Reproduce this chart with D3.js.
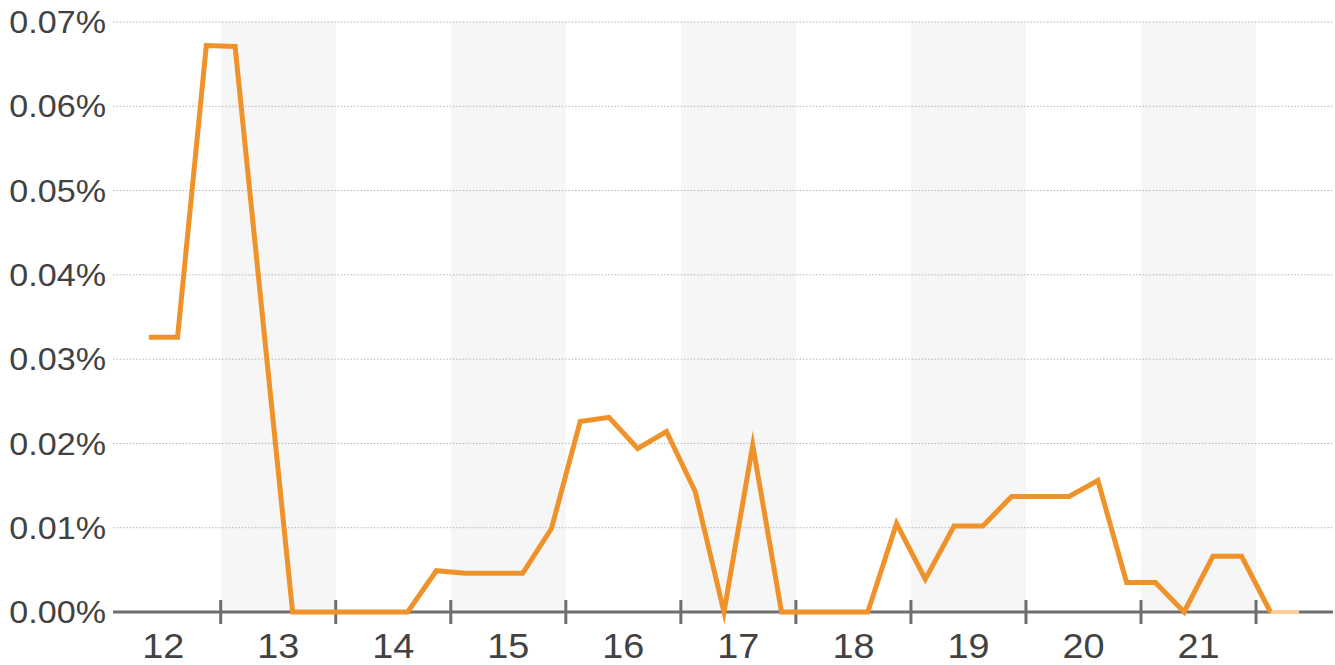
<!DOCTYPE html>
<html>
<head>
<meta charset="utf-8">
<script src="https://cdn.jsdelivr.net/npm/d3@7"></script>
<style>
  html, body { margin: 0; padding: 0; background: #ffffff; }
  svg { display: block; }
  text { font-family: "Liberation Sans", Arial, sans-serif; fill: #424242; }
</style>
</head>
<body>
<svg id="chart" width="1335" height="665"></svg>
<script>
// Category labels on the x axis
const categories = [12, 13, 14, 15, 16, 17, 18, 19, 20, 21];
// Shaded (alternate) categories
const shadedCategories = [13, 15, 17, 19, 21];
// Y tick values (percent)
const yTicks = [0, 0.01, 0.02, 0.03, 0.04, 0.05, 0.06, 0.07];
// Series: one value every quarter of a category, starting at 11.875
const seriesStart = 11.875;
const seriesStep = 0.25;
const seriesValues = [
  0.0326, 0.0326, 0.0672, 0.0671, 0.0335, 0, 0, 0, 0, 0,
  0.0049, 0.0046, 0.0046, 0.0046, 0.0099, 0.0226, 0.0231, 0.0194, 0.0214, 0.0143,
  0, 0.0198, 0, 0, 0, 0, 0.0105, 0.0039, 0.0102, 0.0102,
  0.0137, 0.0137, 0.0137, 0.0156, 0.0035, 0.0035, 0, 0.0066, 0.0066, 0,
  0
];

const svg = d3.select("#chart");
const plotLeft = 113, plotRight = 1333, plotTop = 22, plotBottom = 612;

const x = d3.scaleLinear().domain([11.5, 20.5]).range([105.67, 1141.0]);
const y = d3.scaleLinear().domain([0, 0.07]).range([plotBottom, plotTop]);

// Alternate bands
svg.append("g").selectAll("rect").data(shadedCategories).join("rect")
  .attr("x", d => x(d - 0.5))
  .attr("width", d => x(d + 0.5) - x(d - 0.5))
  .attr("y", plotTop)
  .attr("height", plotBottom - plotTop)
  .attr("fill", "#f6f6f6");

// Gridlines
svg.append("g").selectAll("line").data(yTicks.filter(d => d > 0)).join("line")
  .attr("x1", plotLeft).attr("x2", plotRight)
  .attr("y1", d => y(d)).attr("y2", d => y(d))
  .attr("stroke", "#b8b8b8").attr("stroke-width", 1)
  .attr("stroke-dasharray", "1.6,1.7");

// Y labels
svg.append("g").selectAll("text").data(yTicks).join("text")
  .attr("transform", d => `translate(106,${y(d)}) scale(1.1,1)`)
  .attr("dy", "0.36em")
  .attr("text-anchor", "end")
  .attr("font-size", 31)
  .text(d => d3.format(".2f")(d) + "%");

// Baseline axis
svg.append("line")
  .attr("x1", plotLeft).attr("x2", plotRight)
  .attr("y1", y(0)).attr("y2", y(0))
  .attr("stroke", "#6e6e6e").attr("stroke-width", 3);

// Ticks at category boundaries
svg.append("g").selectAll("line").data(categories).join("line")
  .attr("x1", d => x(d + 0.5)).attr("x2", d => x(d + 0.5))
  .attr("y1", y(0) - 12).attr("y2", y(0) + 12)
  .attr("stroke", "#6e6e6e").attr("stroke-width", 3);

// X labels
svg.append("g").selectAll("text").data(categories).join("text")
  .attr("transform", d => `translate(${x(d)},658) scale(1.08,1)`)
  .attr("text-anchor", "middle")
  .attr("font-size", 35)
  .text(d => d);

// Series line
const pts = seriesValues.map((v, i) => ({ x: seriesStart + i * seriesStep, v }));
const line = d3.line().x(d => x(d.x)).y(d => y(d.v));

svg.append("path")
  .datum(pts.slice(pts.length - 2))
  .attr("d", line)
  .attr("fill", "none")
  .attr("stroke", "#f8cf9c")
  .attr("stroke-width", 4);

svg.append("path")
  .datum(pts.slice(0, pts.length - 1))
  .attr("d", line)
  .attr("fill", "none")
  .attr("stroke", "#f0922a")
  .attr("stroke-width", 5)
  .attr("stroke-linejoin", "miter")
  .attr("stroke-miterlimit", 10);
</script>
</body>
</html>
